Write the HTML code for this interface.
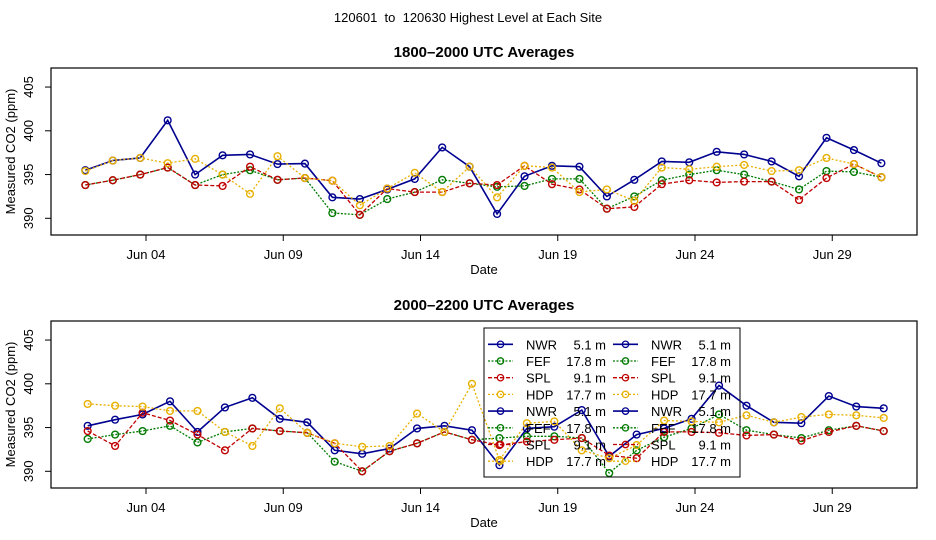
<!DOCTYPE html>
<html><head><meta charset="utf-8"><style>
html,body{margin:0;padding:0;background:#fff}
svg{display:block;font-family:"Liberation Sans",sans-serif}
</style></head><body>
<svg id="c" width="936" height="540" viewBox="0 0 936 540"></svg>
<script>
const days=[1,2,3,4,5,6,7,8,9,10,11,12,13,14,15,16,17,18,19,20,21,22,23,24,25,26,27,28,29,30];
const tickDays=[4,9,14,19,24,29];
const tickDayLabels=["Jun 04","Jun 09","Jun 14","Jun 19","Jun 24","Jun 29"];
const yTicks=[390,395,400,405];
const nwrTop=[395.5,396.6,396.9,401.2,395.0,397.2,397.3,396.2,396.25,392.4,392.2,393.3,394.5,398.1,395.9,390.5,394.8,396.0,395.9,392.5,394.4,396.5,396.4,397.6,397.3,396.5,394.8,399.2,397.8,396.3];
const fefTop=[393.8,394.35,395.0,395.8,393.8,395.0,395.5,394.4,394.6,390.6,390.4,392.2,393.0,394.4,394.0,393.6,393.7,394.5,394.5,391.1,392.5,394.35,395.0,395.5,395.0,394.2,393.3,395.4,395.3,394.7];
const splTop=[393.8,394.35,395.0,395.8,393.8,393.7,395.9,394.4,394.6,394.3,390.4,393.4,393.0,393.0,394.0,393.8,396.0,393.9,393.3,391.1,391.3,393.9,394.35,394.1,394.2,394.2,392.1,394.6,396.2,394.7];
const hdpTop=[395.4,396.6,396.9,396.3,396.8,395.0,392.8,397.1,394.6,394.3,391.5,393.4,395.2,393.0,395.9,392.4,396.0,395.8,393.0,393.3,392.0,395.8,395.6,395.9,396.1,395.4,395.5,396.9,396.2,394.7];
const nwrBot=[395.2,395.9,396.5,398.0,394.5,397.3,398.4,396.0,395.6,392.4,392.0,392.6,394.9,395.2,394.7,390.7,394.9,395.1,397.0,391.7,394.2,394.9,396.0,399.8,397.5,395.6,395.5,398.6,397.4,397.2];
const fefBot=[393.7,394.2,394.6,395.2,393.3,394.5,394.9,394.6,394.4,391.1,390.0,392.3,393.2,394.5,393.6,393.8,394.0,394.0,393.8,389.8,392.4,393.9,394.9,396.5,394.7,394.2,393.8,394.7,395.2,394.6];
const splBot=[394.6,392.9,396.7,395.8,394.2,392.4,394.9,394.6,394.4,393.2,390.0,392.3,393.2,394.5,393.6,393.0,393.4,393.6,393.8,391.8,391.5,394.5,394.5,394.4,394.1,394.2,393.5,394.5,395.2,394.6];
const hdpBot=[397.7,397.5,397.4,396.9,396.9,394.5,392.9,397.2,394.4,393.2,392.8,392.9,396.6,394.5,400.0,391.3,395.5,395.7,392.4,391.5,393.0,395.8,395.7,395.6,396.4,395.6,396.2,396.5,396.4,396.1];

const NS="http://www.w3.org/2000/svg";
const svg=document.getElementById('c');
function mk(tag,attrs,parent,text){const e=document.createElementNS(NS,tag);for(const k in attrs)e.setAttribute(k,attrs[k]);if(text!==undefined)e.textContent=text;(parent||svg).appendChild(e);return e;}
const styles=[
 {name:'nwr',color:'#000090',dash:'',w:1.6},
 {name:'fef',color:'#007a00',dash:'2,1.5',w:1.3},
 {name:'spl',color:'#c00000',dash:'4,2',w:1.3},
 {name:'hdp',color:'#e8b000',dash:'2,2',w:1.3}];

let t=mk('text',{x:468,y:22,'text-anchor':'middle','font-size':13,style:'white-space:pre'},svg,'120601  to  120630 Highest Level at Each Site');


function panel(top,bottom,y390,title,hourOff,series,prefix){
  const g=mk('g',{});
  
  const X=d=>146+(d+hourOff-4)*27.45;
  const Y=v=>y390-(v-390)*8.75;
  let e=mk('text',{x:484,y:top-11,'text-anchor':'middle','font-size':15,'font-weight':'bold'},g,title);
  
  e=mk('rect',{x:51,y:top,width:866,height:bottom-top,fill:'none',stroke:'#000','stroke-width':1.2},g);
  
  tickDays.forEach((d,i)=>{
    const x=X(d)-hourOff*27.45;
    mk('line',{x1:x,x2:x,y1:bottom,y2:bottom+6,stroke:'#000'},g);
    e=mk('text',{x:x,y:bottom+24,'text-anchor':'middle','font-size':13},g,tickDayLabels[i]);
    
  });
  e=mk('text',{x:484,y:bottom+39,'text-anchor':'middle','font-size':13},g,'Date');
  
  yTicks.forEach(v=>{
    const y=Y(v);
    mk('line',{x1:45,x2:51,y1:y,y2:y,stroke:'#000'},g);
    e=mk('text',{x:0,y:0,'text-anchor':'middle','font-size':13,transform:`translate(33,${y}) rotate(-90)`},g,String(v));
    
  });
  e=mk('text',{x:0,y:0,'text-anchor':'middle','font-size':13,transform:`translate(15,${(top+bottom)/2}) rotate(-90)`},g,'Measured CO2 (ppm)');
  
  series.forEach((vals,si)=>{
    const s=styles[si];
    const pts=days.map((d,i)=>X(d).toFixed(1)+','+Y(vals[i]).toFixed(1)).join(' ');
    const sg=mk('g',{},g);
    
    mk('polyline',{points:pts,fill:'none',stroke:s.color,'stroke-width':s.w,'stroke-dasharray':s.dash},sg);
    days.forEach((d,i)=>{
      const c=mk('circle',{cx:X(d),cy:Y(vals[i]),r:3.4,fill:'none',stroke:s.color,'stroke-width':1.4},sg);
      
      
    });
  });
  return g;
}
panel(68,235,218.3,'1800–2000 UTC Averages',0.79,[nwrTop,fefTop,splTop,hdpTop],'top');
panel(321,488,471.3,'2000–2200 UTC Averages',0.875,[nwrBot,fefBot,splBot,hdpBot],'bottom');

const lg=mk('g',{});

mk('rect',{x:484,y:328,width:256,height:149,fill:'none',stroke:'#000','stroke-width':1},lg);
const legNames=['NWR','FEF','SPL','HDP','NWR','FEF','SPL','HDP'];
const legVals=['5.1 m','17.8 m','9.1 m','17.7 m','5.1 m','17.8 m','9.1 m','17.7 m'];
[0,1].forEach(col=>{
  const lx=col===0?488:613, tx=col===0?526:651, vx=col===0?606:731;
  legNames.forEach((n,i)=>{
    const s=styles[i%4];
    const y=344.3+i*16.7;
    const en=mk('g',{},lg);
    
    mk('line',{x1:lx,x2:lx+25,y1:y,y2:y,stroke:s.color,'stroke-width':s.w,'stroke-dasharray':s.dash},en);
    mk('circle',{cx:lx+12.5,cy:y,r:3.2,fill:'none',stroke:s.color,'stroke-width':1.3},en);
    mk('text',{x:tx,y:y+5,'font-size':13},en,n);
    mk('text',{x:vx,y:y+5,'font-size':13,'text-anchor':'end'},en,legVals[i]);
  });
});
</script>
</body></html>
